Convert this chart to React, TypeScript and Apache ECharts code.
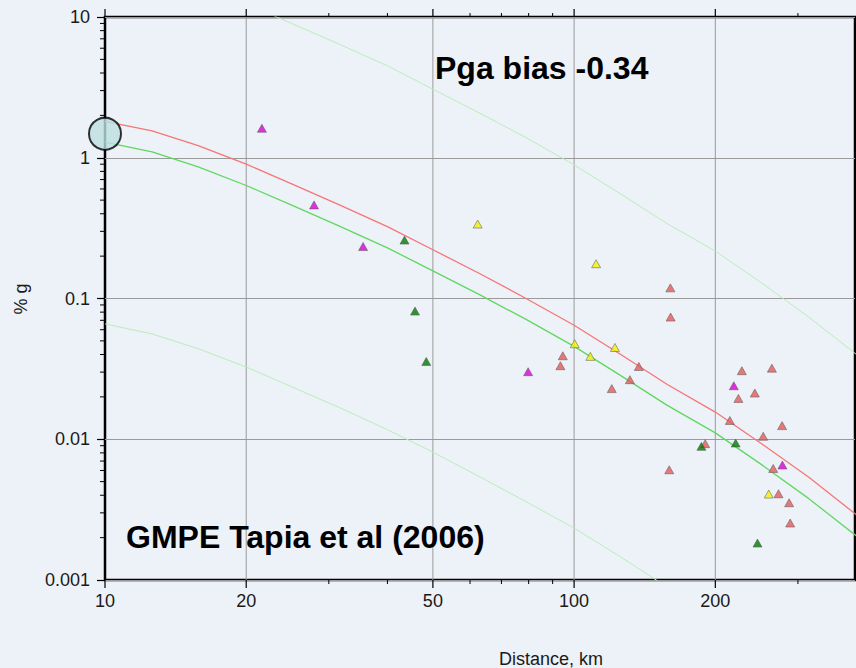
import React, { useEffect, useRef } from "react";
import * as echarts from "echarts";

// ---- data ----
const curveDistances = [10, 12.6, 15.8, 20, 25, 31.6, 40, 50, 63, 79, 100, 126, 158, 200, 251, 316, 400];
const gmpeWithBias = [1.81, 1.55, 1.22, 0.9, 0.653, 0.462, 0.324, 0.222, 0.15, 0.1, 0.0646, 0.0398, 0.0245, 0.0156, 0.0093, 0.0054, 0.0029];
const gmpeMedian = [1.29, 1.1, 0.86, 0.635, 0.46, 0.327, 0.229, 0.157, 0.106, 0.071, 0.0457, 0.0282, 0.0174, 0.0111, 0.0066, 0.0038, 0.00205];
const gmpeUpper = [25, 21.5, 16.8, 12.4, 9.0, 6.4, 4.5, 3.07, 2.07, 1.39, 0.89, 0.55, 0.34, 0.217, 0.129, 0.074, 0.04];
const gmpeLower = [0.066, 0.056, 0.044, 0.0326, 0.0236, 0.0168, 0.0117, 0.0081, 0.0054, 0.0036, 0.00234, 0.00145, 0.00089, 0.00057, 0.00034, 0.0002, 0.0001];

const magentaStations = [[21.6, 1.62], [27.9, 0.462], [35.5, 0.234], [79.8, 0.0302], [219, 0.024], [278, 0.00656]];
const greenStations = [[43.5, 0.26], [45.8, 0.0814], [48.4, 0.0357], [186.8, 0.0089], [221, 0.0094], [246, 0.00183]];
const yellowStations = [[62.3, 0.338], [111.4, 0.1766], [100.3, 0.0477], [108.3, 0.0388], [122.2, 0.0449], [260, 0.00408]];
const redStations = [
  [160.4, 0.119], [160.6, 0.0738], [94.6, 0.0392], [93.5, 0.0333], [137.4, 0.0329], [131.5, 0.0265],
  [120.3, 0.0229], [159.5, 0.00607], [190.3, 0.0093], [227.8, 0.0307], [264, 0.032], [242.8, 0.0213],
  [224, 0.0195], [214.8, 0.0136], [277.6, 0.0125], [253, 0.0105], [265.7, 0.0062], [272.7, 0.0041],
  [287.3, 0.00354], [288.8, 0.00254],
];
const eventPoint = [[10, 1.48]];

const xMajorTicks = [10, 20, 50, 100, 200];
const xTickLabels = ["10", "20", "50", "100", "200"];
const xMinorTicks = [30, 40, 60, 70, 80, 90, 300];
const yMinorTicks = [
  0.002, 0.003, 0.004, 0.005, 0.006, 0.007, 0.008, 0.009,
  0.02, 0.03, 0.04, 0.05, 0.06, 0.07, 0.08, 0.09,
  0.2, 0.3, 0.4, 0.5, 0.6, 0.7, 0.8, 0.9,
  2, 3, 4, 5, 6, 7, 8, 9,
];

const X_MIN = 10;
const X_MAX = 397;
const Y_MIN = 0.001;
const Y_MAX = 10;

const FONT = "Liberation Sans, Arial, Helvetica, sans-serif";
const BG = "#edf1f8";

const pair = (xs: number[], ys: number[]) => xs.map((x, i) => [x, ys[i]]);

export default function App() {
  const ref = useRef<HTMLDivElement>(null);

  useEffect(() => {
    if (!ref.current) return;
    const chart = echarts.init(ref.current, null, { renderer: "svg" });

    const triangle = (name: string, data: number[][], color: string) => ({
      name,
      type: "scatter",
      data,
      symbol: "triangle",
      symbolSize: [9, 8],
      itemStyle: { color, borderColor: "rgba(90,90,90,0.85)", borderWidth: 0.8 },
      z: 5,
    });

    const curve = (name: string, ys: number[], color: string, width: number) => ({
      name,
      type: "line",
      data: pair(curveDistances, ys),
      showSymbol: false,
      smooth: false,
      lineStyle: { color, width },
      z: 3,
    });

    const option: any = {
      animation: false,
      backgroundColor: BG,
      grid: {
        left: 105,
        top: 17,
        width: 750,
        height: 563,
        show: true,
        backgroundColor: BG,
        borderColor: "#000",
        borderWidth: 2.5,
      },
      xAxis: {
        type: "log",
        logBase: 10,
        min: X_MIN,
        max: X_MAX,
        axisLine: { show: false },
        axisTick: { show: false },
        axisLabel: { show: false },
        splitLine: { show: false },
      },
      yAxis: {
        type: "log",
        logBase: 10,
        min: Y_MIN,
        max: Y_MAX,
        axisLine: { show: false },
        axisTick: { show: true, length: 8, lineStyle: { color: "#000", width: 1.2 } },
        axisLabel: {
          fontSize: 18,
          fontFamily: FONT,
          color: "#1a1a1a",
          margin: 15,
          formatter: (v: number) => String(v),
        },
        splitLine: { show: true, lineStyle: { color: "#9a9a9a", width: 1 } },
      },
      graphic: [
        {
          type: "text",
          x: 435,
          y: 68,
          style: { text: "Pga bias -0.34", font: `bold 32px ${FONT}`, fill: "#000", verticalAlign: "middle", align: "left" },
          z: 10,
        },
        {
          type: "text",
          x: 126,
          y: 537,
          style: { text: "GMPE Tapia et al (2006)", font: `bold 32px ${FONT}`, fill: "#000", verticalAlign: "middle", align: "left" },
          z: 10,
        },
        {
          type: "text",
          x: 551,
          y: 659,
          style: { text: "Distance, km", font: `18px ${FONT}`, fill: "#1a1a1a", verticalAlign: "middle", align: "center" },
        },
        {
          type: "text",
          x: 21,
          y: 299,
          rotation: Math.PI / 2,
          style: { text: "% g", font: `18px ${FONT}`, fill: "#1a1a1a", verticalAlign: "middle", align: "center" },
        },
      ],
      series: [
        {
          name: "x-major",
          type: "custom",
          clip: false,
          silent: true,
          z: 1,
          data: xMajorTicks.map((v) => [v, Y_MIN]),
          renderItem: (params: any, api: any) => {
            const v = api.value(0);
            const b = api.coord([v, Y_MIN]);
            const t = api.coord([v, Y_MAX]);
            const children: any[] = [];
            if (v > X_MIN) {
              children.push({
                type: "line",
                shape: { x1: b[0], y1: b[1], x2: t[0], y2: t[1] },
                style: { stroke: "#9a9a9a", lineWidth: 1 },
              });
            }
            children.push({
              type: "line",
              shape: { x1: b[0], y1: b[1], x2: b[0], y2: b[1] + 8 },
              style: { stroke: "#000", lineWidth: 1.2 },
            });
            children.push({
              type: "line",
              shape: { x1: t[0], y1: t[1], x2: t[0], y2: t[1] - 8 },
              style: { stroke: "#000", lineWidth: 1.2 },
            });
            children.push({
              type: "text",
              x: b[0],
              y: b[1] + 21,
              style: {
                text: xTickLabels[params.dataIndex],
                font: `18px ${FONT}`,
                fill: "#1a1a1a",
                align: "center",
                verticalAlign: "middle",
              },
            });
            return { type: "group", children };
          },
        },
        {
          name: "x-minor",
          type: "custom",
          clip: false,
          silent: true,
          z: 1,
          data: xMinorTicks.map((v) => [v, Y_MIN]),
          renderItem: (params: any, api: any) => {
            const v = api.value(0);
            const b = api.coord([v, Y_MIN]);
            const t = api.coord([v, Y_MAX]);
            return {
              type: "group",
              children: [
                { type: "line", shape: { x1: b[0], y1: b[1], x2: b[0], y2: b[1] + 4 }, style: { stroke: "#000", lineWidth: 1 } },
                { type: "line", shape: { x1: t[0], y1: t[1], x2: t[0], y2: t[1] - 4 }, style: { stroke: "#000", lineWidth: 1 } },
              ],
            };
          },
        },
        {
          name: "y-minor",
          type: "custom",
          clip: false,
          silent: true,
          z: 1,
          data: yMinorTicks.map((v) => [X_MIN, v]),
          renderItem: (params: any, api: any) => {
            const p = api.coord([X_MIN, api.value(1)]);
            return {
              type: "line",
              shape: { x1: p[0] - 5, y1: p[1], x2: p[0], y2: p[1] },
              style: { stroke: "#000", lineWidth: 1 },
            };
          },
        },
        curve("upper", gmpeUpper, "#b9eeb9", 1),
        curve("lower", gmpeLower, "#b9eeb9", 1),
        curve("median", gmpeMedian, "#5fd85f", 1.3),
        curve("biased", gmpeWithBias, "#f77575", 1.3),
        triangle("red", redStations, "#e35a5a"),
        triangle("yellow", yellowStations, "#f2f200"),
        triangle("green", greenStations, "#007a00"),
        triangle("magenta", magentaStations, "#d800d8"),
        {
          name: "event",
          type: "scatter",
          data: eventPoint,
          symbol: "circle",
          symbolSize: 32,
          clip: false,
          itemStyle: { color: "#bde0e1", borderColor: "#000", borderWidth: 2 },
          z: 8,
        },
      ],
    };

    chart.setOption(option);
    return () => chart.dispose();
  }, []);

  return (
    <div
      ref={ref}
      style={{ position: "fixed", left: 0, top: 0, width: 856, height: 668, background: BG }}
    />
  );
}
